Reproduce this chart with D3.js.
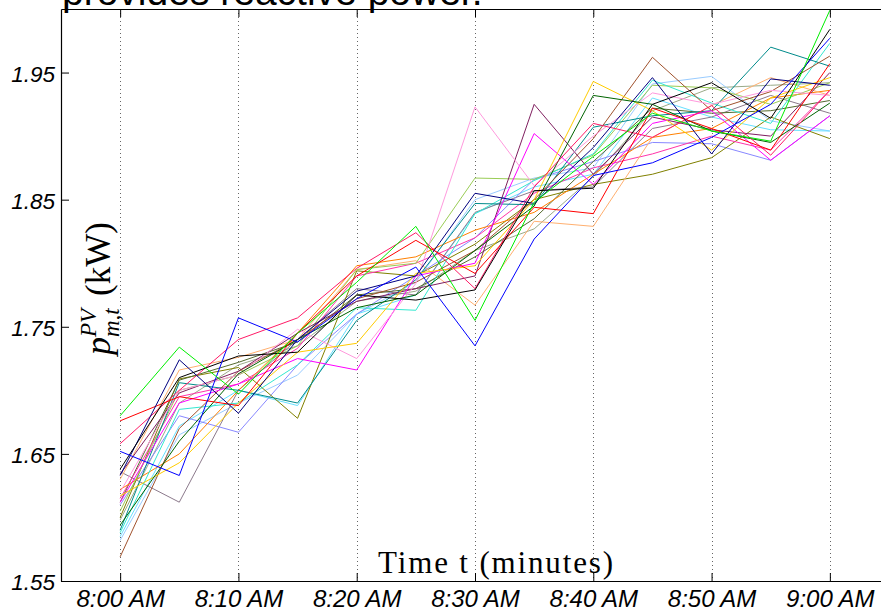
<!DOCTYPE html>
<html>
<head>
<meta charset="utf-8">
<script src="https://cdn.jsdelivr.net/npm/d3@7"></script>
<style>
  html, body { margin: 0; padding: 0; background: #fff; }
  svg { display: block; }
</style>
</head>
<body>
<svg id="chart" width="881" height="614"></svg>
<script>
// Sample times, minutes after 8:00 AM
const minutes = [0, 5, 10, 15, 20, 25, 30, 35, 40, 45, 50, 55, 60];
const xTickMinutes = [0, 10, 20, 30, 40, 50, 60];
const xTickLabels = ["8:00 AM", "8:10 AM", "8:20 AM", "8:30 AM", "8:40 AM", "8:50 AM", "9:00 AM"];
const yTicks = [1.55, 1.65, 1.75, 1.85, 1.95];

// PV active power per scenario (kW)
const pGreen     = [1.680, 1.734, 1.697, 1.745, 1.785, 1.829, 1.755, 1.848, 1.884, 1.918, 1.904, 1.896, 1.999];
const pBlue      = [1.652, 1.633, 1.757, 1.738, 1.772, 1.797, 1.735, 1.819, 1.869, 1.879, 1.899, 1.925, 1.977];
const pNavy      = [1.633, 1.724, 1.682, 1.740, 1.778, 1.790, 1.855, 1.847, 1.891, 1.946, 1.886, 1.945, 1.940];
const pBlack     = [1.638, 1.710, 1.727, 1.730, 1.775, 1.771, 1.779, 1.857, 1.859, 1.925, 1.942, 1.914, 1.984];
const pRed       = [1.676, 1.695, 1.688, 1.745, 1.790, 1.818, 1.792, 1.844, 1.839, 1.922, 1.906, 1.889, 1.957];
const pCrimson   = [1.658, 1.700, 1.740, 1.757, 1.796, 1.824, 1.780, 1.860, 1.910, 1.899, 1.924, 1.885, 1.936];
const pMagenta   = [1.612, 1.690, 1.705, 1.725, 1.716, 1.790, 1.800, 1.902, 1.862, 1.910, 1.920, 1.881, 1.916];
const pPink      = [1.620, 1.700, 1.712, 1.748, 1.725, 1.784, 1.923, 1.861, 1.900, 1.934, 1.925, 1.936, 1.932];
const pPurple    = [1.634, 1.698, 1.715, 1.745, 1.770, 1.780, 1.790, 1.925, 1.870, 1.915, 1.905, 1.900, 1.950];
const pBrown     = [1.569, 1.670, 1.715, 1.740, 1.772, 1.785, 1.810, 1.850, 1.898, 1.962, 1.920, 1.935, 1.963];
const pTeal      = [1.590, 1.706, 1.700, 1.690, 1.755, 1.787, 1.847, 1.846, 1.907, 1.916, 1.920, 1.970, 1.955];
const pYellow    = [1.617, 1.643, 1.690, 1.730, 1.737, 1.792, 1.798, 1.850, 1.943, 1.920, 1.889, 1.930, 1.946];
const pDarkGreen = [1.594, 1.660, 1.713, 1.740, 1.765, 1.775, 1.810, 1.845, 1.932, 1.925, 1.904, 1.895, 1.926];
const pOlive     = [1.600, 1.709, 1.718, 1.678, 1.794, 1.790, 1.815, 1.850, 1.862, 1.870, 1.883, 1.915, 1.898];
const pLavender  = [1.610, 1.680, 1.667, 1.720, 1.760, 1.790, 1.820, 1.866, 1.880, 1.895, 1.894, 1.881, 1.916];
const pLightGrn  = [1.605, 1.700, 1.712, 1.735, 1.795, 1.800, 1.867, 1.866, 1.885, 1.940, 1.938, 1.925, 1.942];
const pOrange    = [1.622, 1.650, 1.700, 1.745, 1.798, 1.805, 1.826, 1.840, 1.870, 1.899, 1.906, 1.930, 1.936];
const pPeach     = [1.630, 1.716, 1.726, 1.740, 1.795, 1.802, 1.767, 1.833, 1.829, 1.899, 1.924, 1.946, 1.932];
const pCyan      = [1.588, 1.685, 1.690, 1.720, 1.765, 1.763, 1.839, 1.865, 1.886, 1.944, 1.926, 1.910, 1.973];
const pLightBlue = [1.582, 1.665, 1.690, 1.712, 1.760, 1.785, 1.850, 1.867, 1.875, 1.941, 1.947, 1.912, 1.904];
const pSky       = [1.585, 1.672, 1.700, 1.688, 1.760, 1.775, 1.839, 1.860, 1.870, 1.930, 1.915, 1.905, 1.904];
const pGray      = [1.636, 1.612, 1.700, 1.740, 1.780, 1.775, 1.840, 1.857, 1.860, 1.906, 1.915, 1.932, 1.918];
const pSage      = [1.598, 1.690, 1.720, 1.735, 1.770, 1.778, 1.810, 1.827, 1.868, 1.920, 1.938, 1.940, 1.942];
const pDarkOlive = [1.612, 1.708, 1.722, 1.738, 1.775, 1.780, 1.805, 1.835, 1.880, 1.922, 1.918, 1.920, 1.928];
const pHotPink   = [1.615, 1.695, 1.705, 1.733, 1.790, 1.800, 1.820, 1.855, 1.875, 1.886, 1.900, 1.889, 1.936];

const scenarios = [pSage, pLightBlue, pSky, pGray, pLavender, pOlive, pDarkOlive, pHotPink, pOrange, pPeach,
                   pLightGrn, pCyan, pTeal, pBrown, pPurple, pMagenta, pPink, pYellow, pDarkGreen, pCrimson,
                   pRed, pNavy, pBlack, pBlue, pGreen];
const lineColors = ["#9aaa88", "#99ccff", "#66e0ff", "#8c7a8c", "#8888ff", "#808000", "#556b2f", "#ff33aa", "#ff8000", "#ffb070",
                    "#99cc55", "#33e8d0", "#008b8b", "#a0522d", "#7f1f5f", "#ff00ff", "#ff99dd", "#ffcc00", "#006400", "#ff1a66",
                    "#ff0000", "#00007f", "#000000", "#0000ff", "#00ee00"];

const svg = d3.select("#chart");

const x = d3.scaleLinear().domain([-5, 65]).range([61, 889]);
const y = d3.scaleLinear().domain([1.55, 2.0]).range([581, 9]);

// Title (only its last line is inside the window)
svg.append("text")
  .attr("x", 62).attr("y", 5)
  .attr("font-family", "Liberation Sans, Arial, sans-serif")
  .attr("font-size", 39)
  .attr("fill", "#000")
  .text("provides reactive power.");

const plot = svg.append("g");

// Vertical dotted grid at the x ticks
plot.selectAll("line.grid")
  .data(xTickMinutes)
  .enter().append("line")
  .attr("class", "grid")
  .attr("x1", d => Math.round(x(d)) + 0.5).attr("x2", d => Math.round(x(d)) + 0.5)
  .attr("y1", y(2.0)).attr("y2", y(1.55))
  .attr("stroke", "#666")
  .attr("stroke-width", 1)
  .attr("stroke-dasharray", "1,3");

// Scenario lines
const line = d3.line()
  .x((d, i) => x(minutes[i]))
  .y(d => y(d));

plot.selectAll("path.scen")
  .data(scenarios)
  .enter().append("path")
  .attr("class", "scen")
  .attr("d", line)
  .attr("fill", "none")
  .attr("stroke", (d, i) => lineColors[i])
  .attr("stroke-width", 1)
  .attr("stroke-linejoin", "miter");

// Axes
const tickFont = "Liberation Sans, Arial, sans-serif";

const xAxisBottom = d3.axisBottom(x).tickValues(xTickMinutes)
  .tickFormat((d, i) => xTickLabels[i]).tickSizeInner(-8).tickSizeOuter(0).tickPadding(9);
const gxb = svg.append("g").attr("transform", `translate(0,${y(1.55)})`).call(xAxisBottom);
gxb.selectAll("text")
  .attr("font-family", tickFont).attr("font-style", "italic")
  .attr("font-size", 24).attr("fill", "#000");

const xAxisTop = d3.axisTop(x).tickValues(xTickMinutes)
  .tickFormat("").tickSizeInner(-8).tickSizeOuter(0);
svg.append("g").attr("transform", `translate(0,${y(2.0)})`).call(xAxisTop);

const yAxis = d3.axisLeft(y).tickValues(yTicks)
  .tickFormat(d3.format(".2f")).tickSizeInner(-8).tickSizeOuter(0).tickPadding(6);
const gy = svg.append("g").attr("transform", `translate(${x(-5)},0)`).call(yAxis);
gy.selectAll("text")
  .attr("font-family", tickFont).attr("font-style", "italic")
  .attr("font-size", 22.5).attr("fill", "#000").attr("dy", "0.38em");

svg.selectAll(".domain").attr("stroke", "#000").attr("stroke-width", 1.2);
svg.selectAll(".tick line").attr("stroke", "#000").attr("stroke-width", 1);

// Axis labels
svg.append("text")
  .attr("x", 378).attr("y", 573)
  .attr("font-family", "Liberation Serif, Times New Roman, serif")
  .attr("font-size", 31)
  .attr("textLength", 235)
  .attr("fill", "#000")
  .text("Time t (minutes)");

// Rotated label: x in the rotated frame runs upward on screen (x = -screenY)
const yl = svg.append("text")
  .attr("transform", "translate(110,0) rotate(-90)")
  .attr("font-family", "Liberation Serif, Times New Roman, serif")
  .attr("fill", "#000");
yl.append("tspan").attr("x", -355).attr("font-style", "italic").attr("font-size", 36).text("p");
yl.append("tspan").attr("x", -337).attr("dy", -14).attr("font-style", "italic").attr("font-size", 23).text("PV");
yl.append("tspan").attr("x", -337).attr("dy", 23).attr("font-style", "italic").attr("font-size", 23).text("m,t");
yl.append("tspan").attr("x", -296).attr("dy", -9).attr("font-size", 35).text("(kW)");
</script>
</body>
</html>
